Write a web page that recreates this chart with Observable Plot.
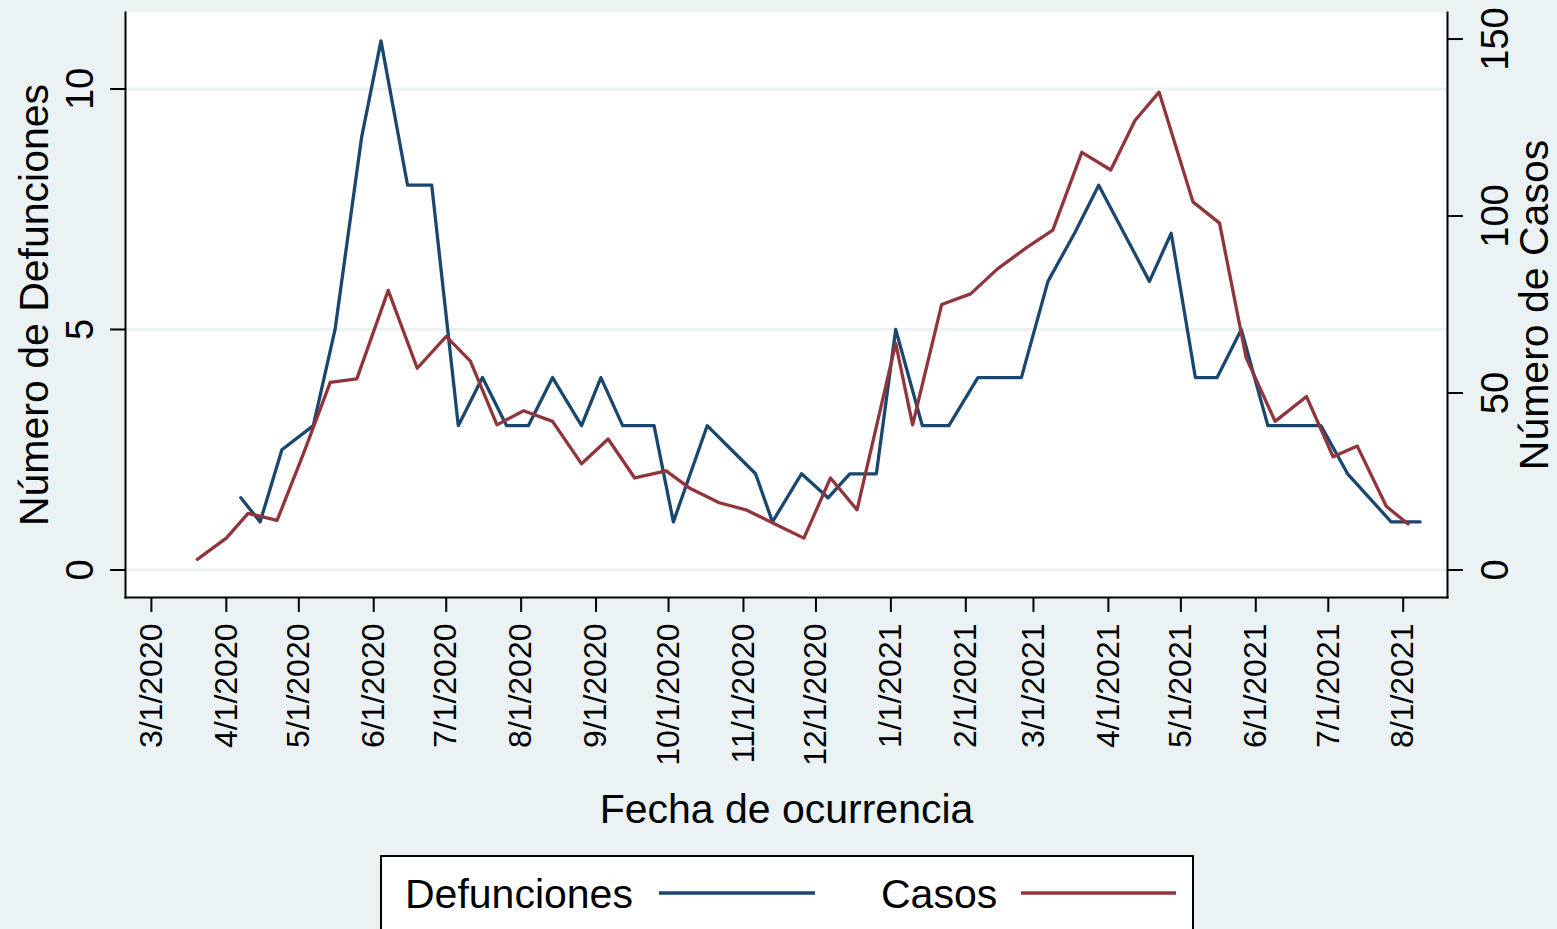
<!DOCTYPE html>
<html>
<head>
<meta charset="utf-8">
<script src="https://cdn.jsdelivr.net/npm/d3@7"></script>
<script src="https://cdn.jsdelivr.net/npm/@observablehq/plot@0.6"></script>
<style>
html, body { margin: 0; padding: 0; background: #EAF2F3; overflow: hidden; }
#wrap { position: relative; width: 1557px; height: 929px; overflow: hidden; background: #EAF2F3;
        font-family: "Liberation Sans", Arial, Helvetica, sans-serif; }
#wrap > svg.overlay { position: absolute; left: 0; top: 0; }
</style>
</head>
<body>
<div id="wrap"></div>
<script>
// ---- Data ----
const deathDates = ["2020-04-07","2020-04-15","2020-04-24","2020-05-07","2020-05-16","2020-05-27","2020-06-04",
  "2020-06-15","2020-06-25","2020-07-06","2020-07-16","2020-07-26","2020-08-04","2020-08-14","2020-08-26",
  "2020-09-03","2020-09-12","2020-09-25","2020-10-03","2020-10-17","2020-10-27","2020-11-06","2020-11-13",
  "2020-11-25","2020-12-06","2020-12-15","2020-12-26","2021-01-03","2021-01-14","2021-01-25","2021-02-06",
  "2021-02-24","2021-03-07","2021-03-18","2021-03-28","2021-04-18","2021-04-27","2021-05-07","2021-05-16",
  "2021-05-26","2021-06-06","2021-06-28","2021-07-09","2021-07-18","2021-07-27","2021-08-08"];
const deathValues = [1.5, 1, 2.5, 3, 5, 9, 11,
  8, 8, 3, 4, 3, 3, 4, 3,
  4, 3, 3, 1, 3, 2.5, 2, 1,
  2, 1.5, 2, 2, 5, 3, 3, 4,
  4, 6, 7, 8, 6, 7, 4, 4,
  5, 3, 3, 2, 1.5, 1, 1];

const caseDates = ["2020-03-20","2020-04-01","2020-04-10","2020-04-22","2020-05-03","2020-05-14","2020-05-25",
  "2020-06-07","2020-06-19","2020-07-01","2020-07-11","2020-07-22","2020-08-02","2020-08-14","2020-08-26",
  "2020-09-06","2020-09-17","2020-09-30","2020-10-10","2020-10-22","2020-11-02","2020-11-14","2020-11-26",
  "2020-12-07","2020-12-18","2021-01-03","2021-01-10","2021-01-22","2021-02-03","2021-02-14","2021-02-26",
  "2021-03-09","2021-03-21","2021-04-02","2021-04-12","2021-04-22","2021-05-06","2021-05-17","2021-05-28",
  "2021-06-09","2021-06-22","2021-07-03","2021-07-13","2021-07-25","2021-08-03"];
const caseValues = [3, 9, 16, 14, 33, 53, 54,
  79, 57, 66, 59, 41, 45, 42, 30,
  37, 26, 28, 23, 19, 17, 13, 9,
  26, 17, 64, 41, 75, 78, 85, 91,
  96, 118, 113, 127, 135, 104, 98, 60,
  42, 49, 32, 35, 18, 13];

const xTickDates = ["2020-03-01","2020-04-01","2020-05-01","2020-06-01","2020-07-01","2020-08-01",
  "2020-09-01","2020-10-01","2020-11-01","2020-12-01","2021-01-01","2021-02-01","2021-03-01",
  "2021-04-01","2021-05-01","2021-06-01","2021-07-01","2021-08-01"];
const leftTicks = [0, 5, 10];
const rightTicks = [0, 50, 100, 150];
const seriesNames = ["Defunciones", "Casos"];
const seriesColors = ["#1A476F", "#90353B"];
const titles = { left: "Número de Defunciones", right: "Número de Casos", x: "Fecha de ocurrencia" };

// ---- Scales / tables ----
const leftDomain = [-0.572, 11.59];
const rightDomain = [-7.77, 157.5];
const toLeft = d3.scaleLinear().domain(rightDomain).range(leftDomain);

const deaths = deathDates.map((d, i) => ({date: new Date(d), value: deathValues[i]}));
const cases = caseDates.map((d, i) => ({date: new Date(d), value: caseValues[i]}));
const fmtDate = d3.utcFormat("%-m/%-d/%Y");
const font = "Liberation Sans, Arial, Helvetica, sans-serif";

const chart = Plot.plot({
  width: 1557,
  height: 929,
  marginLeft: 125,
  marginRight: 110,
  marginTop: 12,
  marginBottom: 332,
  style: {background: "#EAF2F3", fontFamily: font, color: "#000", overflow: "visible"},
  x: {type: "utc", domain: [new Date(Date.UTC(2020, 1, 19, 6, 46)), new Date(Date.UTC(2021, 7, 19, 8, 0))]},
  y: {domain: leftDomain},
  marks: [
    Plot.frame({fill: "white", stroke: "none"}),
    Plot.gridY(leftTicks, {stroke: "#EAF2F3", strokeOpacity: 1, strokeWidth: 3}),
    Plot.lineY(deaths, {x: "date", y: "value", stroke: seriesColors[0], strokeWidth: 3.3}),
    Plot.lineY(cases, {x: "date", y: d => toLeft(d.value), stroke: seriesColors[1], strokeWidth: 3.3}),
    Plot.frame({anchor: "left", stroke: "#000", strokeWidth: 2}),
    Plot.frame({anchor: "right", stroke: "#000", strokeWidth: 2}),
    Plot.frame({anchor: "bottom", stroke: "#000", strokeWidth: 2}),
    Plot.axisY(leftTicks, {anchor: "left", tickSize: 15, tickPadding: 18, tickRotate: -90,
      textAnchor: "middle", lineAnchor: "bottom", fontSize: 38, strokeWidth: 2, label: null}),
    Plot.axisY(rightTicks.map(v => toLeft(v)), {anchor: "right", tickSize: 15, tickPadding: 19, tickRotate: -90,
      textAnchor: "middle", lineAnchor: "top", fontSize: 38, strokeWidth: 2, label: null,
      tickFormat: v => String(Math.round(toLeft.invert(v)))}),
    Plot.axisX(xTickDates.map(d => new Date(d)), {anchor: "bottom", tickSize: 15, tickPadding: 11, tickRotate: -90,
      textAnchor: "end", lineAnchor: "middle", fontSize: 32, strokeWidth: 2, label: null, tickFormat: fmtDate}),
    Plot.text([titles.left], {text: d => d, frameAnchor: "left", rotate: -90, dx: -78,
      textAnchor: "middle", lineAnchor: "bottom", fontSize: 41, fill: "#000"}),
    Plot.text([titles.right], {text: d => d, frameAnchor: "right", rotate: -90, dx: 100,
      textAnchor: "middle", lineAnchor: "bottom", fontSize: 41, fill: "#000"}),
    Plot.text([titles.x], {text: d => d, frameAnchor: "bottom", dy: 225,
      textAnchor: "middle", lineAnchor: "bottom", fontSize: 41, fill: "#000"})
  ]
});
document.getElementById("wrap").appendChild(chart);

// ---- Legend (below the plot area) ----
const leg = d3.select("#wrap").append("svg").attr("class", "overlay")
  .attr("width", 1557).attr("height", 929).style("font-family", font);
leg.append("rect").attr("x", 381).attr("y", 856).attr("width", 812).attr("height", 120)
  .attr("fill", "white").attr("stroke", "#000").attr("stroke-width", 2);
const legendItems = [
  {name: seriesNames[0], color: seriesColors[0], tx: 405, lx1: 659, lx2: 815},
  {name: seriesNames[1], color: seriesColors[1], tx: 881, lx1: 1021, lx2: 1176}
];
legendItems.forEach(it => {
  leg.append("text").attr("x", it.tx).attr("y", 908).attr("font-size", 41).attr("fill", "#000").text(it.name);
  leg.append("line").attr("x1", it.lx1).attr("x2", it.lx2).attr("y1", 893).attr("y2", 893)
    .attr("stroke", it.color).attr("stroke-width", 3.3);
});
</script>
</body>
</html>
